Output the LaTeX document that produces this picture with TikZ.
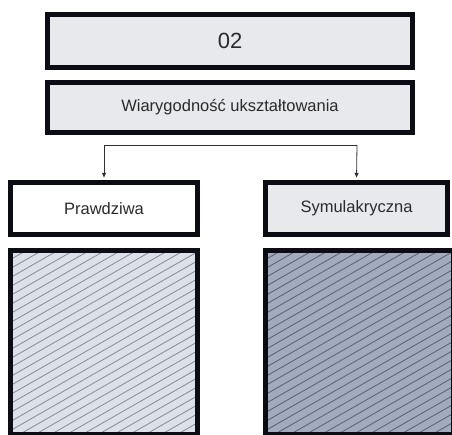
\documentclass[tikz,border=0pt]{standalone}
\usepackage{fontspec}
\setmainfont{Liberation Sans}
\usetikzlibrary{arrows.meta}
\definecolor{bord}{HTML}{0B0C14}
\definecolor{boxfill}{HTML}{E7E9ED}
\definecolor{hatchA}{HTML}{DCE0E9}
\definecolor{hatchAl}{HTML}{858A95}
\definecolor{hatchB}{HTML}{A2AABD}
\definecolor{hatchBl}{HTML}{596072}
\definecolor{txt}{HTML}{2A2A2A}
\tikzset{
  box/.style={draw=bord, line width=5pt, inner sep=0pt, text=txt,
    font=\fontsize{16.5}{18}\selectfont},
  hatched/.style 2 args={box, fill=#1,
    path picture={\foreach \k in {0,...,48}{
      \draw[#2, line width=0.8pt]
        ([yshift=-\k*9pt]path picture bounding box.north west) -- ++(340pt,194pt);}}},
  conn/.style={draw=bord!85, line width=0.8pt},
  arr/.style={conn, -{Latex[length=5pt,width=4.5pt]}, shorten >=2pt}
}
\begin{document}
\begin{tikzpicture}[x=1pt,y=-1pt]
\useasboundingbox (0,0) rectangle (452,435);
\node[box, fill=boxfill, minimum width=365pt, minimum height=53pt,
  font=\fontsize{22}{24}\selectfont] (n02) at (230,41) {02};
\node[box, fill=boxfill, minimum width=365pt, minimum height=50pt] (wia) at (230,107.5) {Wiarygodność ukształtowania};
\node[box, fill=white, minimum width=187pt, minimum height=52pt] (pr) at (104,208.5) {Prawdziwa};
\node[box, fill=boxfill, minimum width=182pt, minimum height=52pt] (sy) at (356.5,208.5) {Symulakryczna};
\node[hatched={hatchA}{hatchAl}, minimum width=187pt, minimum height=184pt] (lb) at (104,342.5) {};
\node[hatched={hatchB}{hatchBl}, minimum width=188pt, minimum height=184pt] (rb) at (359.5,342.5) {};
\coordinate (bl) at (104,145);
\coordinate (br) at (357,145);
\draw[conn] (bl) -- (br);
\draw[arr] (bl) -- (pr.north);
\draw[arr] (br) -- (sy.north);
\end{tikzpicture}
\end{document}
